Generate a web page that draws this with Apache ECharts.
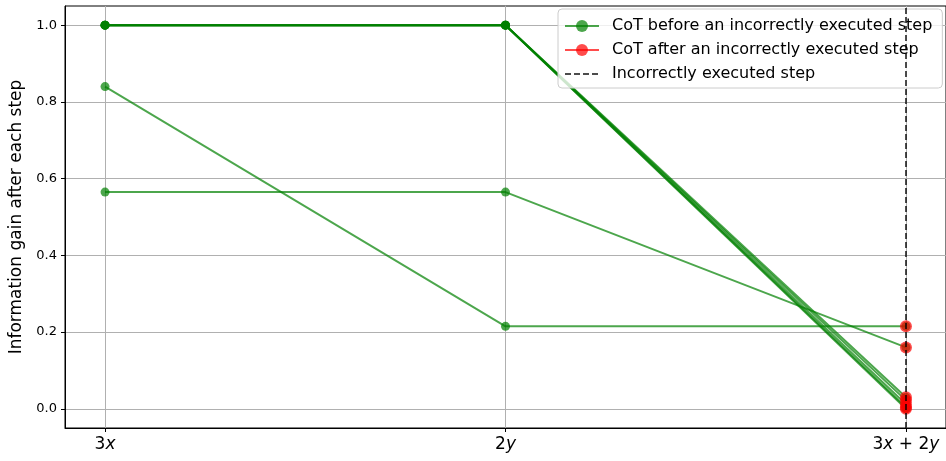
<!DOCTYPE html>
<html>
<head>
<meta charset="utf-8">
<script src="https://cdn.jsdelivr.net/npm/echarts@6/dist/echarts.min.js"></script>
<style>
  html, body { margin: 0; padding: 0; background: #fff; }
  #main { width: 946px; height: 461px; }
</style>
</head>
<body>
<div id="main"></div>
<script>
// steps (x positions) and their labels
var stepPos = [0, 1, 2];
var stepLabels = ["3x", "2y", "3x+2y"];
var yTicks = [0, 0.2, 0.4, 0.6, 0.8, 1.0];
var incorrectStep = 2;

// information gain per CoT run (green part = before the wrong step)
var run1 = [1.0, 1.0, 0.03];
var run2 = [1.0, 1.0, 0.022];
var run3 = [1.0, 1.0, 0.012];
var run4 = [1.0, 1.0, 0.004];
var run5 = [1.0, 1.0, 0.0];
var run6 = [0.84, 0.215, 0.215];
var run7 = [0.565, 0.565, 0.16];
var runs = [run1, run2, run3, run4, run5, run6, run7];

var nameBefore = "CoT before an incorrectly executed step";
var nameAfter = "CoT after an incorrectly executed step";
var nameStep = "Incorrectly executed step";

var font = "DejaVu Sans";

var series = [];
runs.forEach(function (r) {
  series.push({
    name: nameBefore,
    type: "line",
    data: stepPos.map(function (x, i) { return [x, r[i]]; }),
    symbol: "circle",
    symbolSize: 9,
    color: "rgba(0,128,0,0.7)",
    lineStyle: { width: 2, color: "rgba(0,128,0,0.7)" },
    itemStyle: { color: "rgba(0,128,0,0.7)" },
    emphasis: { disabled: true },
    animation: false,
    z: 3
  });
});
runs.forEach(function (r) {
  series.push({
    name: nameAfter,
    type: "line",
    data: [[stepPos[incorrectStep], r[incorrectStep]]],
    symbol: "circle",
    symbolSize: 12,
    color: "rgba(255,0,0,0.7)",
    lineStyle: { width: 2, color: "rgba(255,0,0,0.7)" },
    itemStyle: { color: "rgba(255,0,0,0.7)" },
    emphasis: { disabled: true },
    animation: false,
    z: 4
  });
});
series.push({
  name: nameStep,
  type: "line",
  data: [],
  color: "rgba(0,0,0,0.7)",
  lineStyle: { type: [6, 3], width: 2, color: "rgba(0,0,0,0.7)" },
  symbol: "none",
  animation: false,
  markLine: {
    silent: true,
    symbol: "none",
    label: { show: false },
    lineStyle: { type: [6, 3], width: 2, color: "rgba(0,0,0,0.7)" },
    data: [{ xAxis: stepPos[incorrectStep] }]
  },
  z: 5
});

function xLabel(v) {
  var i = stepPos.indexOf(v);
  var s = stepLabels[i];
  if (s === "3x") return "{n|3}{i|x}";
  if (s === "2y") return "{n|2}{i|y}";
  return "{n|3}{i|x}{n| + 2}{i|y}";
}

var chart = echarts.init(document.getElementById("main"));
chart.setOption({
  animation: false,
  textStyle: { fontFamily: font },
  grid: { left: 65, right: -1, top: 6, bottom: 33, containLabel: false,
          show: true, borderColor: "#000", borderWidth: 1 },
  legend: {
    orient: "vertical",
    left: 558, top: 9,
    padding: [9, 10, 6, 6],
    itemGap: 8,
    itemWidth: 34,
    itemHeight: 15,
    backgroundColor: "rgba(255,255,255,0.8)",
    borderColor: "#cccccc",
    borderWidth: 1,
    borderRadius: 4,
    textStyle: { fontFamily: font, fontSize: 16, color: "#000", padding: [0, 0, 0, 8] },
    data: [
      nameBefore,
      nameAfter,
      { name: nameStep, itemStyle: { color: "rgba(0,0,0,0)", borderWidth: 0 } }
    ]
  },
  xAxis: {
    type: "value",
    min: -0.1, max: 2.1,
    axisLine: { show: true, onZero: false, lineStyle: { color: "#000", width: 1 } },
    axisTick: { show: true, length: 4, customValues: stepPos, lineStyle: { color: "#000" } },
    axisLabel: {
      customValues: stepPos,
      margin: 8,
      formatter: xLabel,
      rich: {
        n: { fontFamily: font, fontSize: 17, color: "#000" },
        i: { fontFamily: font, fontSize: 17, fontStyle: "italic", color: "#000" }
      }
    },
    splitLine: { show: true, lineStyle: { color: "#b0b0b0", width: 1 } }
  },
  yAxis: {
    type: "value",
    min: -0.05, max: 1.05,
    name: "Information gain after each step",
    nameLocation: "middle",
    nameGap: 34,
    nameTextStyle: { fontFamily: font, fontSize: 17, color: "#000" },
    axisLine: { show: true, onZero: false, lineStyle: { color: "#000", width: 1 } },
    axisTick: { show: true, length: 4, customValues: yTicks, lineStyle: { color: "#000" } },
    axisLabel: {
      customValues: yTicks,
      margin: 8,
      fontFamily: font, fontSize: 13, color: "#000",
      formatter: function (v) { return v.toFixed(1); }
    },
    splitLine: { show: true, lineStyle: { color: "#b0b0b0", width: 1 } }
  },
  series: series
});
</script>
</body>
</html>
